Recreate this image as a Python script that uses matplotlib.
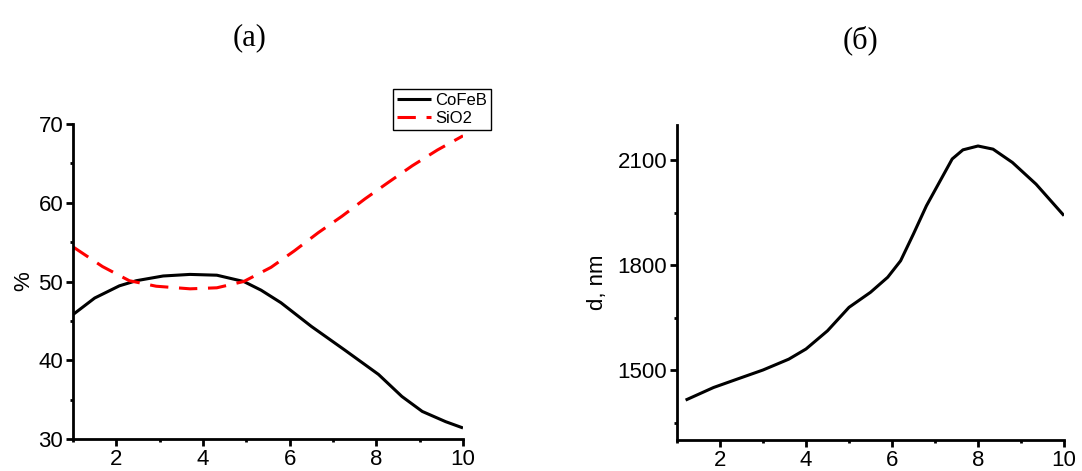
import matplotlib
matplotlib.use("Agg")
import matplotlib.pyplot as plt
from matplotlib.ticker import MultipleLocator

# ---- data ----
x_cofeb = [1, 1.5, 2.07, 2.46, 3.08, 3.7, 4.32, 4.94, 5.34, 5.8, 6.5, 7.27,
           8.05, 8.59, 9.06, 9.6, 10]
cofeb = [45.8, 47.9, 49.45, 50.1, 50.7, 50.9, 50.8, 50.0, 48.9, 47.3, 44.3,
         41.3, 38.2, 35.4, 33.5, 32.2, 31.4]

x_sio2 = [1, 1.68, 2.3, 2.92, 3.7, 4.32, 4.94, 5.57, 6.11, 6.66, 7.21, 7.74,
          8.28, 8.83, 9.41, 10]
sio2 = [54.4, 51.9, 50.1, 49.4, 49.07, 49.2, 50.0, 51.8, 53.9, 56.2, 58.3,
        60.5, 62.6, 64.7, 66.7, 68.5]

x_d = [1.2, 1.85, 2.4, 3.0, 3.6, 4.0, 4.5, 5.0, 5.5, 5.9, 6.2, 6.5, 6.8, 7.1,
       7.4, 7.65, 8.0, 8.35, 8.8, 9.35, 10]
d_nm = [1414, 1450, 1474, 1500, 1531, 1560, 1612, 1679, 1722, 1765, 1812,
        1889, 1969, 2036, 2103, 2129, 2140, 2131, 2093, 2031, 1941]

x_ticks = [2, 4, 6, 8, 10]
y_ticks_a = [30, 40, 50, 60, 70]
y_ticks_b = [1500, 1800, 2100]

title_a = "(а)"
title_b = "(б)"

plt.rcParams['font.family'] = ['Liberation Sans', 'DejaVu Sans']
plt.rcParams['lines.solid_joinstyle'] = 'round'
plt.rcParams['lines.solid_capstyle'] = 'butt'

fig = plt.figure(figsize=(10.82, 4.71), dpi=100)
ax1 = fig.add_axes([73/1082, 32/471, 390/1082, 315/471])
ax2 = fig.add_axes([677/1082, 31/471, 387/1082, 315/471])

def style(ax):
    for s in ['top', 'right']:
        ax.spines[s].set_visible(False)
    for s in ['left', 'bottom']:
        ax.spines[s].set_linewidth(2.0)
    ax.tick_params(which='major', direction='out', length=5, width=2,
                   labelsize=16, pad=2)
    ax.tick_params(which='minor', direction='out', length=2.5, width=2)
    ax.xaxis.set_minor_locator(MultipleLocator(1))

ax1.plot(x_cofeb, cofeb, color='black', lw=2.2, label='CoFeB')
ax1.plot(x_sio2, sio2, color='red', lw=2.2, dashes=(6, 3.5), label='SiO2',
         dash_joinstyle='round')
ax1.set_xlim(1, 10)
ax1.set_ylim(30, 70)
ax1.set_xticks(x_ticks)
ax1.set_yticks(y_ticks_a)
ax1.yaxis.set_minor_locator(MultipleLocator(5))
ax1.set_ylabel('%', fontsize=16, labelpad=3)
style(ax1)
leg = ax1.legend(loc='upper right', bbox_to_anchor=(491/1082, 1 - 89/471),
                 bbox_transform=fig.transFigure, fontsize=12, frameon=True,
                 fancybox=False, framealpha=1, edgecolor='black',
                 handlelength=2.0, handletextpad=0.25, borderpad=0.25,
                 labelspacing=0.18, borderaxespad=0)
leg.get_frame().set_linewidth(1.0)

ax2.plot(x_d, d_nm, color='black', lw=2.2)
ax2.set_xlim(1, 10)
ax2.set_ylim(1300, 2200)
ax2.set_xticks(x_ticks)
ax2.set_yticks(y_ticks_b)
ax2.yaxis.set_minor_locator(MultipleLocator(150))
ax2.set_ylabel('d, nm', fontsize=16, labelpad=7)
style(ax2)

fig.text(250/1082, 1 - 38/471, title_a, ha='center', va='center',
         fontsize=22, family='Liberation Serif')
fig.text(860/1082, 1 - 40/471, title_b, ha='center', va='center',
         fontsize=22, family='Liberation Serif')

fig.savefig('out.png', dpi=100)
